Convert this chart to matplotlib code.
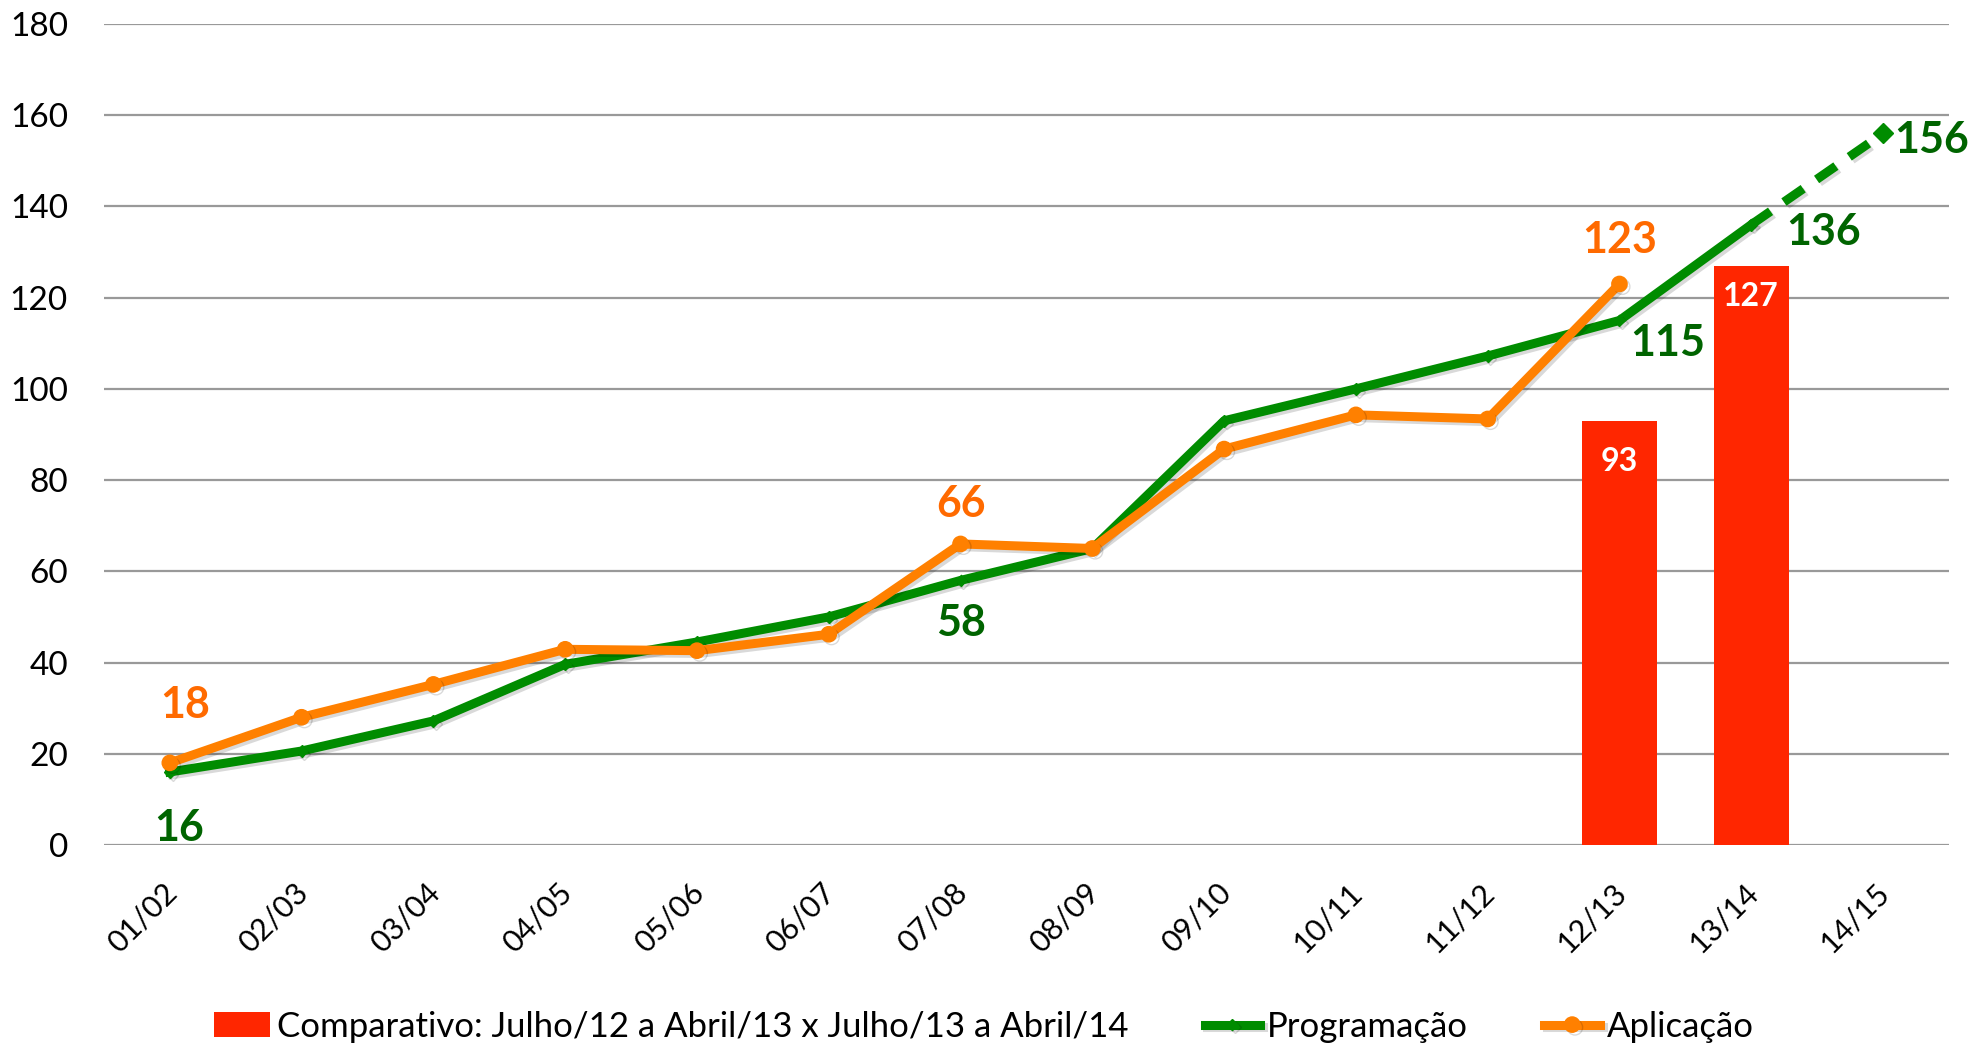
import matplotlib
matplotlib.use("Agg")
import matplotlib.pyplot as plt
import matplotlib.transforms as mtransforms
import matplotlib.patheffects as pe
import numpy as np

plt.rcParams['font.family'] = ['Lato', 'DejaVu Sans']

# dados
categorias = ['01/02', '02/03', '03/04', '04/05', '05/06', '06/07', '07/08',
              '08/09', '09/10', '10/11', '11/12', '12/13', '13/14', '14/15']
programacao = [16, 20.6, 27.2, 39.6, 44.5, 50, 58, 65, 93, 100, 107.2, 115, 136, 156]
aplicacao = [18, 28, 35.2, 42.9, 42.6, 46.2, 66, 65, 86.8, 94.3, 93.4, 123]
barras_cat = ['12/13', '13/14']
barras_val = [93, 127]

rotulos_prog = {'01/02': 16, '07/08': 58, '12/13': 115, '13/14': 136, '14/15': 156}
rotulos_apl = {'01/02': 18, '07/08': 66, '12/13': 123}

VERDE = '#008c00'
VERDE_TXT = '#006400'
LARANJA = '#ff8000'
LARANJA_TXT = '#ff6a00'
VERMELHO = '#ff2600'

fig = plt.figure(figsize=(19.72, 10.52), dpi=100)
ax = fig.add_axes([0.0527, 0.1968, 0.9356, 0.7804])

x = np.arange(len(categorias))
bx = [categorias.index(c) for c in barras_cat]

barras = ax.bar(bx, barras_val, width=0.57, color=VERMELHO, zorder=2,
                label='Comparativo: Julho/12 a Abril/13 x Julho/13 a Abril/14')

sombra = [pe.SimpleLineShadow(offset=(2, -2), alpha=0.15), pe.Normal()]

n = len(programacao) - 1
ln_prog, = ax.plot(x[:n], programacao[:n], color=VERDE, lw=6.5, marker='D',
                   ms=6, zorder=3, label='Programação', path_effects=sombra)
ax.plot(x[n - 1:], programacao[n - 1:], color=VERDE, lw=6.5, ls=(0, (2.6, 1.8)),
        zorder=3, path_effects=sombra)
ax.plot(x[-1:], programacao[-1:], color=VERDE, marker='D', ms=10, zorder=3, ls='none')

ln_apl, = ax.plot(x[:len(aplicacao)], aplicacao, color=LARANJA, lw=6.5, marker='o',
                  ms=11, zorder=4, label='Aplicação', path_effects=sombra)

# rótulos de dados
desloc_prog = {'01/02': (7, -40), '07/08': (0, -31), '12/13': (35, -16),
               '13/14': (52, -5), '14/15': (35, -5)}
for cat, v in rotulos_prog.items():
    ax.annotate(str(v), (categorias.index(cat), v), xytext=desloc_prog[cat],
                textcoords='offset points', ha='center', va='center',
                fontsize=31, fontweight='bold', color=VERDE_TXT, zorder=5)

desloc_apl = {'01/02': (11, 42), '07/08': (0, 29), '12/13': (0, 32)}
for cat, v in rotulos_apl.items():
    ax.annotate(str(v), (categorias.index(cat), v), xytext=desloc_apl[cat],
                textcoords='offset points', ha='center', va='center',
                fontsize=31, fontweight='bold', color=LARANJA_TXT, zorder=5)

desloc_bar = [-29, -22]
for xi, v, dy in zip(bx, barras_val, desloc_bar):
    ax.annotate(str(v), (xi, v), xytext=(0, dy), textcoords='offset points',
                ha='center', va='center', fontsize=23, fontweight='bold',
                color='white', zorder=5)

ax.set_xlim(-0.5, len(categorias) - 0.5)
ax.set_ylim(0, 180)
ax.set_yticks(range(0, 181, 20))
ax.set_xticks(x)
ax.set_xticklabels(categorias, rotation=45, ha='right', fontsize=22)
ax.tick_params(axis='y', length=0, pad=26, labelsize=24)
ax.tick_params(axis='x', length=0, pad=24)
desloc = mtransforms.ScaledTranslation(0.12, 0, fig.dpi_scale_trans)
for lb in ax.get_xticklabels():
    lb.set_transform(lb.get_transform() + desloc)

for s in ax.spines.values():
    s.set_visible(False)
ax.yaxis.grid(True, color='#999999', lw=1.6)
ax.set_axisbelow(True)

ax.legend(handles=[barras, ln_prog, ln_apl], loc='center',
          bbox_to_anchor=(0.499, 0.024), bbox_transform=fig.transFigure,
          ncol=3, frameon=False, fontsize=25, handlelength=1.6,
          handletextpad=0.2, columnspacing=2.2, borderaxespad=0)

fig.savefig('out.png', dpi=100)
